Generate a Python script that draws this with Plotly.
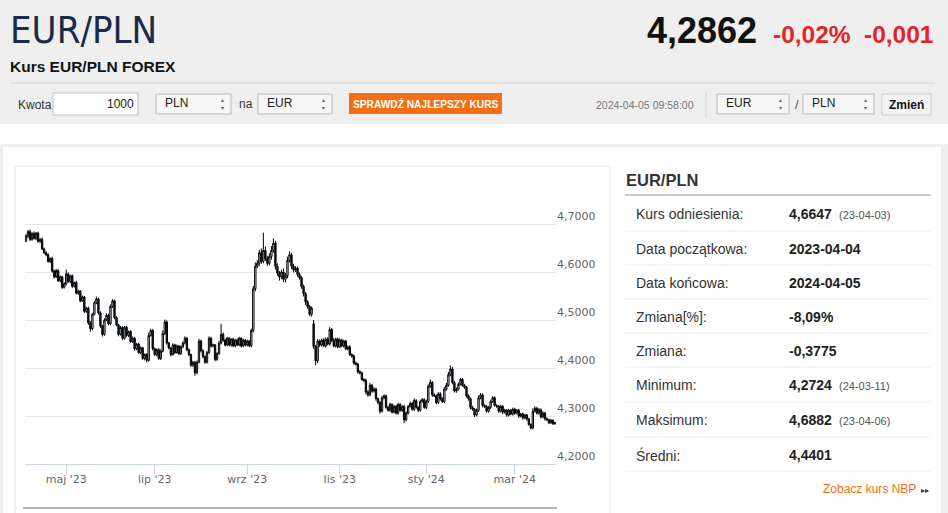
import pandas as pd
import plotly.graph_objects as go

W, H = 948, 513

# kurs odniesienia (otwarcie pierwszej swiecy)
ref_rate = 4.6647

# zamkniecia dzienne EUR/PLN, 2023-04-04 .. 2024-04-05 (odczyt z wykresu)
closes = [
    4.675, 4.684, 4.668, 4.680, 4.670, 4.681, 4.664, 4.668, 4.648, 4.640,
    4.636, 4.622, 4.628, 4.602, 4.590, 4.603, 4.582, 4.590, 4.568, 4.575,
    4.596, 4.580, 4.592, 4.570, 4.578, 4.556, 4.560, 4.540, 4.548, 4.518,
    4.525, 4.494, 4.482, 4.512, 4.536, 4.544, 4.515, 4.488, 4.470, 4.500,
    4.510, 4.492, 4.528, 4.540, 4.505, 4.490, 4.470, 4.484, 4.462, 4.485,
    4.468, 4.476, 4.455, 4.462, 4.440, 4.450, 4.432, 4.442, 4.420, 4.428,
    4.416, 4.468, 4.478, 4.440, 4.428, 4.438, 4.420, 4.435, 4.472, 4.496,
    4.452, 4.442, 4.428, 4.448, 4.432, 4.446, 4.430, 4.444, 4.452, 4.462,
    4.438, 4.428, 4.406, 4.412, 4.390, 4.412, 4.456, 4.436, 4.424, 4.412,
    4.432, 4.462, 4.446, 4.448, 4.418, 4.430, 4.452, 4.470, 4.458, 4.448,
    4.462, 4.448, 4.460, 4.446, 4.458, 4.448, 4.462, 4.446, 4.458, 4.448,
    4.456, 4.446, 4.478, 4.565, 4.612, 4.618, 4.640, 4.622, 4.645, 4.628,
    4.618, 4.632, 4.645, 4.660, 4.612, 4.598, 4.590, 4.600, 4.585, 4.592,
    4.624, 4.636, 4.612, 4.604, 4.608, 4.595, 4.588, 4.570, 4.555, 4.538,
    4.528, 4.512, 4.525, 4.445, 4.415, 4.456, 4.448, 4.458, 4.446, 4.460,
    4.450, 4.480, 4.458, 4.446, 4.460, 4.444, 4.458, 4.446, 4.456, 4.440,
    4.444, 4.428, 4.425, 4.410, 4.408, 4.392, 4.390, 4.376, 4.374, 4.350,
    4.344, 4.364, 4.352, 4.356, 4.336, 4.328, 4.310, 4.338, 4.342, 4.318,
    4.312, 4.324, 4.308, 4.320, 4.306, 4.324, 4.312, 4.320, 4.292, 4.306,
    4.320, 4.326, 4.314, 4.332, 4.318, 4.312, 4.330, 4.334, 4.318, 4.330,
    4.362, 4.370, 4.344, 4.342, 4.328, 4.346, 4.336, 4.330, 4.356, 4.364,
    4.386, 4.398, 4.370, 4.352, 4.356, 4.366, 4.376, 4.364, 4.360, 4.342,
    4.336, 4.318, 4.314, 4.302, 4.312, 4.338, 4.344, 4.322, 4.320, 4.310,
    4.318, 4.330, 4.338, 4.322, 4.320, 4.310, 4.320, 4.308, 4.312, 4.302,
    4.312, 4.304, 4.314, 4.306, 4.312, 4.300, 4.304, 4.296, 4.302, 4.294,
    4.282, 4.275, 4.310, 4.316, 4.306, 4.313, 4.298, 4.306, 4.294, 4.292,
    4.286, 4.291, 4.284, 4.2862,
]

# cienie gorne / dolne w pipsach (0.0001)
wick_up = [
    40, 35, 45, 30, 45, 20, 30, 25, 40, 30,
    35, 30, 25, 40, 30, 35, 25, 30, 20, 35,
    90, 30, 25, 30, 20, 35, 30, 25, 30, 20,
    25, 30, 40, 30, 35, 50, 25, 30, 20, 35,
    40, 30, 45, 35, 25, 30, 20, 35, 30, 25,
    30, 20, 25, 35, 30, 20, 25, 30, 20, 25,
    30, 60, 40, 30, 25, 30, 35, 40, 60, 50,
    30, 25, 20, 35, 25, 30, 20, 30, 35, 40,
    30, 25, 20, 30, 25, 40, 50, 30, 25, 20,
    35, 40, 30, 25, 20, 30, 45, 220, 40, 30,
    30, 25, 20, 30, 25, 35, 30, 20, 30, 25,
    30, 25, 40, 60, 80, 70, 60, 90, 370, 80,
    60, 70, 90, 100, 50, 60, 40, 50, 70, 60,
    80, 70, 40, 50, 40, 30, 40, 30, 35, 30,
    30, 35, 30, 80, 30, 40, 35, 30, 40, 35,
    40, 50, 30, 40, 30, 35, 40, 30, 30, 25,
    30, 35, 25, 30, 40, 30, 35, 25, 30, 40,
    35, 50, 30, 40, 30, 25, 35, 40, 30, 25,
    30, 40, 25, 30, 35, 40, 30, 25, 30, 35,
    30, 40, 35, 50, 30, 25, 40, 35, 30, 40,
    40, 60, 30, 35, 30, 40, 35, 30, 45, 50,
    60, 70, 40, 30, 35, 40, 30, 35, 30, 25,
    30, 25, 30, 25, 35, 50, 40, 30, 25, 30,
    30, 40, 35, 30, 25, 30, 35, 25, 30, 25,
    30, 25, 35, 30, 25, 30, 25, 30, 25, 20,
    25, 30, 60, 40, 30, 35, 30, 40, 25, 30,
    25, 30, 20, 15,
]
wick_dn = [
    30, 40, 35, 30, 25, 40, 30, 35, 25, 30,
    30, 25, 35, 30, 40, 25, 30, 35, 30, 25,
    30, 25, 35, 30, 25, 30, 35, 30, 25, 35,
    30, 40, 60, 30, 25, 30, 35, 40, 45, 30,
    25, 30, 30, 25, 35, 30, 40, 25, 35, 30,
    30, 35, 25, 30, 40, 30, 25, 35, 30, 40,
    45, 30, 25, 35, 30, 40, 30, 35, 25, 30,
    35, 30, 40, 25, 30, 25, 35, 30, 25, 30,
    30, 35, 40, 40, 60, 30, 25, 35, 40, 30,
    30, 25, 35, 30, 40, 30, 25, 30, 35, 30,
    25, 30, 35, 25, 30, 25, 30, 35, 25, 30,
    30, 25, 30, 40, 50, 40, 60, 50, 40, 50,
    50, 40, 60, 50, 70, 60, 80, 50, 60, 70,
    50, 40, 60, 50, 40, 50, 40, 50, 60, 70,
    50, 40, 50, 50, 90, 50, 40, 35, 30, 35,
    30, 35, 40, 30, 35, 30, 25, 30, 35, 30,
    35, 30, 40, 35, 30, 40, 35, 30, 40, 50,
    40, 30, 35, 30, 40, 35, 50, 30, 35, 30,
    30, 35, 30, 25, 30, 35, 30, 40, 70, 30,
    30, 25, 30, 35, 30, 40, 30, 25, 30, 35,
    30, 35, 40, 30, 35, 30, 40, 30, 35, 30,
    30, 35, 40, 30, 35, 30, 25, 30, 35, 40,
    40, 35, 30, 40, 30, 35, 30, 40, 35, 30,
    30, 35, 30, 25, 30, 35, 30, 40, 30, 35,
    30, 25, 30, 35, 30, 40, 30, 35, 30, 40,
    20, 26, 30, 25, 30, 35, 30, 25, 35, 30,
    30, 25, 30, 20,
]

# luka po wyborach (otwarcie inne niz poprzednie zamkniecie)
gap_idx = [143]
gap_open = [4.492]

tick_dates = ['2023-05-02', '2023-07-03', '2023-09-05', '2023-11-08', '2024-01-08', '2024-03-08']
tick_labels = ["maj '23", "lip '23", "wrz '23", "lis '23", "sty '24", "mar '24"]
y_ticks = [4.2, 4.3, 4.4, 4.5, 4.6, 4.7, 4.8]
y_labels = ['4,2000', '4,3000', '4,4000', '4,5000', '4,6000', '4,7000', '']

stat_labels = ['Kurs odniesienia:', 'Data początkowa:', 'Data końcowa:', 'Zmiana[%]:',
               'Zmiana:', 'Minimum:', 'Maksimum:', 'Średni:']
stat_values = ['4,6647', '2023-04-04', '2024-04-05', '-8,09%', '-0,3775', '4,2724', '4,6882', '4,4401']
stat_dates = ['(23-04-03)', '', '', '', '', '(24-03-11)', '(23-04-06)', '']

last_rate = '4,2862'
change_pct = '-0,02%'
change_abs = '-0,001'

SANS = 'Liberation Sans, Arial, sans-serif'
NARROW = 'Liberation Sans Narrow, Arial Narrow, DejaVu Sans Condensed, sans-serif'
AXF = 'DejaVu Sans, Verdana, sans-serif'
ORANGE = '#f36f12'

dates = pd.bdate_range('2023-04-04', periods=len(closes))
opens = [ref_rate] + closes[:-1]
for i, o in zip(gap_idx, gap_open):
    opens[i] = o
highs = [max(o, c) + u / 10000 for o, c, u in zip(opens, closes, wick_up)]
lows = [min(o, c) - d / 10000 for o, c, d in zip(opens, closes, wick_dn)]

fig = go.Figure()
fig.add_trace(go.Candlestick(
    x=dates, open=opens, high=highs, low=lows, close=closes,
    increasing=dict(fillcolor='#ffffff', line=dict(color='#000000', width=1)),
    decreasing=dict(fillcolor='#14233f', line=dict(color='#000000', width=1)),
    whiskerwidth=0,
    showlegend=False,
))


def px_x(p):
    return p / W


def px_y(p):
    return 1 - p / H


shapes = []


def box(x0, y0, x1, y1, fill='rgba(0,0,0,0)', line='rgba(0,0,0,0)', lw=1):
    shapes.append(dict(type='rect', xref='paper', yref='paper',
                       x0=px_x(x0), x1=px_x(x1), y0=px_y(y1), y1=px_y(y0),
                       fillcolor=fill, line=dict(color=line, width=lw), layer='below'))


def hline(x0, x1, y, color, lw=1):
    shapes.append(dict(type='line', xref='paper', yref='paper',
                       x0=px_x(x0), x1=px_x(x1), y0=px_y(y), y1=px_y(y),
                       line=dict(color=color, width=lw), layer='below'))


def label(x, y, text, size=12, color='#333333', weight='normal', anchor='left', family=SANS):
    fig.add_annotation(x=px_x(x), y=px_y(y), xref='paper', yref='paper', text=text,
                       showarrow=False, xanchor=anchor, yanchor='middle', borderpad=0,
                       font=dict(size=size, color=color, weight=weight, family=family))


# tlo strony
box(0, 0, W, 124, fill='#efefef')
box(0, 144, W, 147, fill='#efefef')
box(0, 144, 3, H, fill='#efefef')
box(941, 144, W, H, fill='#efefef')
hline(10, 935, 83, '#d2d2d2')

# naglowek
label(9, 30, 'EUR/PLN', 38, '#1b2a47', family=NARROW)
label(758, 31, last_rate, 36, '#111111', 'bold', 'right')
label(852, 35, change_pct, 24.5, '#e3242b', 'bold', 'right')
label(934, 35, change_abs, 24.5, '#e3242b', 'bold', 'right')
label(9, 67, 'Kurs EUR/PLN FOREX', 15.5, '#111111', 'bold')

# kalkulator
label(17, 105, 'Kwota', 12, '#333333')
box(53, 93, 138, 115, fill='#ffffff', line='#bdbdbd')
label(135, 104, '1000', 12, '#222222', anchor='right')
for x0, x1, cur in [(156, 231, 'PLN'), (258, 332, 'EUR'), (717, 789, 'EUR'), (803, 874, 'PLN')]:
    box(x0, 94, x1, 114, fill='#f7f7f7', line='#b8b8b8')
    label(x0 + 8, 103, cur, 12, '#222222')
    label(x1 - 9, 104, '▴<br>▾', 6, '#666666', anchor='center')
label(238, 104, 'na', 12, '#333333')
box(349, 93, 502, 114, fill=ORANGE)
label(425.5, 104, 'SPRAWDŹ NAJLEPSZY KURS', 10.2, '#ffffff', 'bold', 'center')
label(695, 105, '2024-04-05 09:58:00', 10.5, '#777777', anchor='right')
shapes.append(dict(type='line', xref='paper', yref='paper', x0=px_x(706), x1=px_x(706),
                   y0=px_y(118), y1=px_y(92), line=dict(color='#d6d6d6', width=1), layer='below'))
label(797, 104, '/', 13, '#555555', anchor='center')
box(882, 94, 931, 115, fill='#f4f4f4', line='#cfcfcf')
label(906.5, 105, 'Zmień', 12, '#111111', 'bold', 'center')

# ramka wykresu
box(15, 166, 610, 540, line='#e6e6e6')
hline(23, 557, 508, '#b4b4b4', 2)

# tabela statystyk
label(625, 180, 'EUR/PLN', 16.5, '#333333', 'bold')
hline(625, 931, 195, '#c8c8c8', 2)
row_y = [214, 249, 283, 317, 351, 385, 420, 455]
sep_y = [231, 265, 299, 333, 367, 402, 437, 471]
for ry, sy, name, val, dt in zip(row_y, sep_y, stat_labels, stat_values, stat_dates):
    label(635, ry, name, 14, '#333333')
    label(788, ry, val, 14, '#222222', 'bold')
    if dt:
        label(838, ry + 1, dt, 11, '#555555')
    hline(625, 931, sy, '#ececec')
label(917, 489, 'Zobacz kurs NBP', 12, ORANGE, anchor='right')
label(925, 490, '▸▸', 8, '#333333', anchor='center')

fig.update_layout(
    width=W, height=H,
    margin=dict(l=0, r=0, t=0, b=0),
    paper_bgcolor='#ffffff',
    plot_bgcolor='rgba(0,0,0,0)',
    shapes=shapes,
    showlegend=False,
    hovermode=False,
    boxgap=0.05,
    xaxis=dict(
        domain=[px_x(25), px_x(556)],
        type='date',
        range=[dates[0] - pd.Timedelta(hours=12), dates[-1] + pd.Timedelta(hours=12)],
        rangebreaks=[dict(bounds=['sat', 'mon'])],
        rangeslider=dict(visible=False),
        showgrid=False, zeroline=False,
        showline=True, linecolor='#ccd6eb', linewidth=1,
        ticks='outside', ticklen=9, tickcolor='#ccd6eb',
        tickvals=tick_dates, ticktext=tick_labels,
        ticklabelstandoff=-4,
        tickfont=dict(size=11, color='#666666', family=AXF),
    ),
    yaxis=dict(
        domain=[px_y(464), px_y(176)],
        range=[4.2, 4.8],
        side='right',
        tickvals=y_ticks, ticktext=y_labels,
        ticklabelposition='outside top',
        showgrid=True, gridcolor='#e6e6e6', gridwidth=1,
        zeroline=False, showline=False, ticks='',
        tickfont=dict(size=11, color='#666666', family=AXF),
    ),
)

# strona bez domyslnego marginesu body, zeby wykres zaczynal sie w rogu okna
fig.write_html('out.html', config={'displayModeBar': False},
               post_script="document.body.style.margin='0';")
